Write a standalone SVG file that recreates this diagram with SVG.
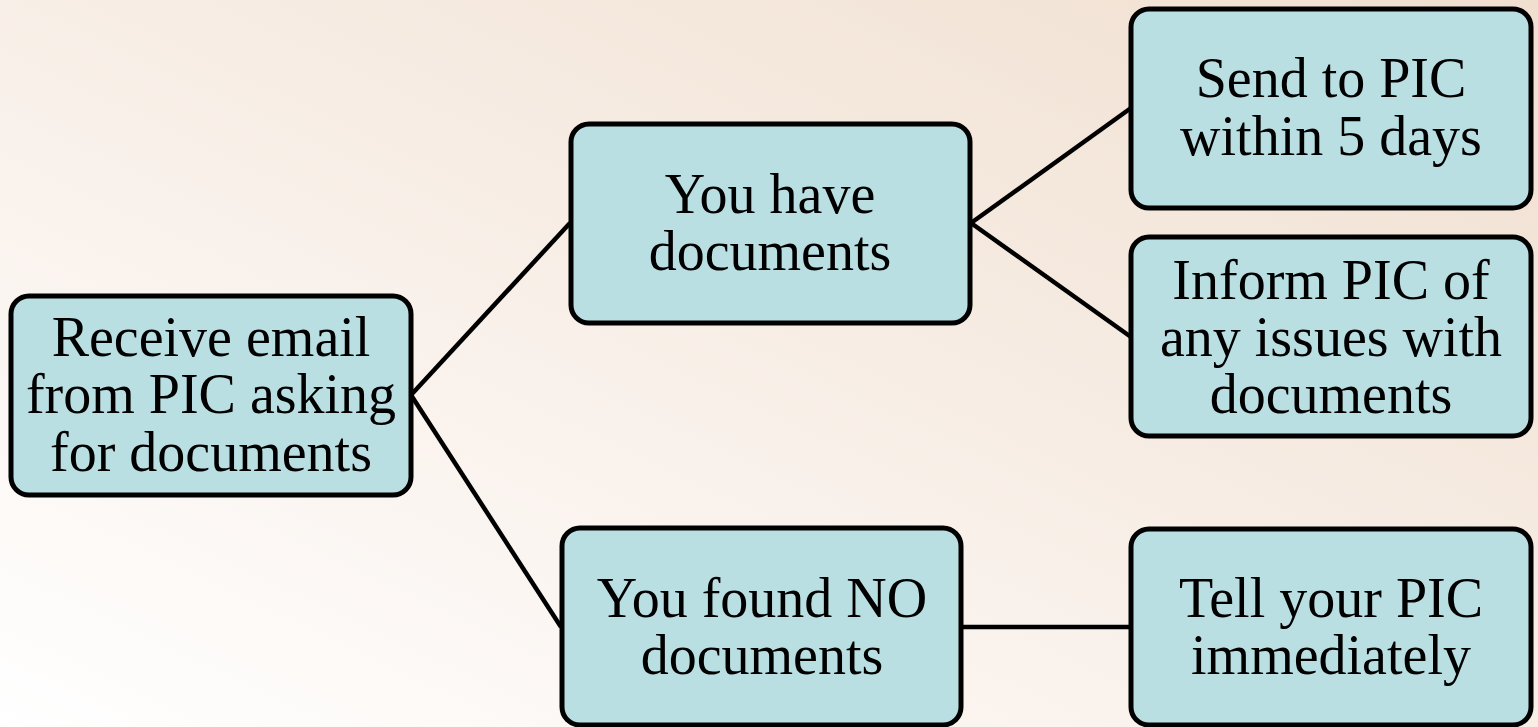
<svg xmlns="http://www.w3.org/2000/svg" width="1538" height="727" viewBox="0 0 1538 727">
<defs>
<linearGradient id="bg" x1="0" y1="1" x2="1" y2="0">
<stop offset="0" stop-color="#ffffff"/>
<stop offset="0.35" stop-color="#faf3ee"/>
<stop offset="1" stop-color="#f0dfcf"/>
</linearGradient>
<style>
.box{fill:#b9dfe3;stroke:#000;stroke-width:5}
.t{font-family:"Liberation Serif","Times New Roman",serif;font-size:56px;fill:#000;text-anchor:middle}
.c{stroke:#000;stroke-width:4.5;fill:none}
</style>
</defs>
<rect x="0" y="0" width="1538" height="727" fill="url(#bg)"/>
<g id="connectors">
<line class="c" x1="411" y1="395" x2="570" y2="223"/>
<line class="c" x1="411" y1="395" x2="561" y2="627"/>
<line class="c" x1="971" y1="223" x2="1131" y2="108"/>
<line class="c" x1="971" y1="223" x2="1131" y2="337"/>
<line class="c" x1="962" y1="627" x2="1131" y2="627"/>
</g>
<g id="n1">
<rect class="box" x="11" y="296" width="400" height="199" rx="18"/>
<text class="t" x="211" y="356">Receive email</text>
<text class="t" x="211" y="413">from PIC asking</text>
<text class="t" x="211" y="471">for documents</text>
</g>
<g id="n2">
<rect class="box" x="571" y="124" width="399" height="199" rx="18"/>
<text class="t" x="770" y="213">You have</text>
<text class="t" x="770" y="270">documents</text>
</g>
<g id="n3">
<rect class="box" x="562" y="528" width="399" height="197" rx="18"/>
<text class="t" x="762" y="617">You found NO</text>
<text class="t" x="762" y="674">documents</text>
</g>
<g id="n4">
<rect class="box" x="1131" y="9" width="400" height="199" rx="18"/>
<text class="t" x="1331" y="97">Send to PIC</text>
<text class="t" x="1331" y="155">within 5 days</text>
</g>
<g id="n5">
<rect class="box" x="1131" y="237" width="400" height="199" rx="18"/>
<text class="t" x="1331" y="299">Inform PIC of</text>
<text class="t" x="1331" y="356">any issues with</text>
<text class="t" x="1331" y="413">documents</text>
</g>
<g id="n6">
<rect class="box" x="1131" y="529" width="400" height="196" rx="18"/>
<text class="t" x="1331" y="617">Tell your PIC</text>
<text class="t" x="1331" y="674">immediately</text>
</g>
</svg>
